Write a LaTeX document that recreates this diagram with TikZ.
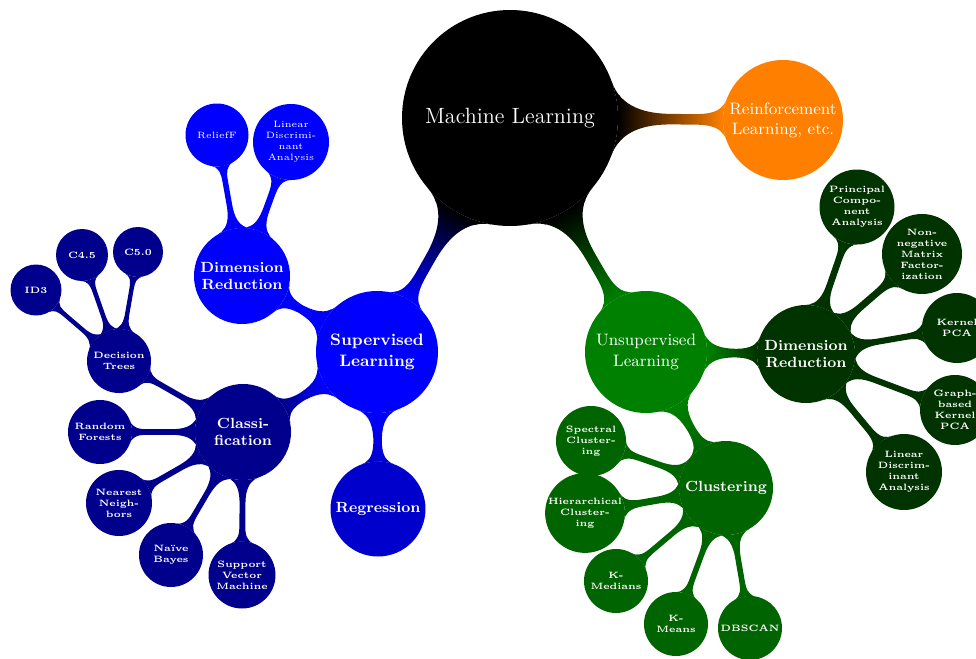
\documentclass[tikz,border=0pt]{standalone}
\usetikzlibrary{mindmap,backgrounds}
\definecolor{orng}{RGB}{255,128,0}
\definecolor{sblue}{RGB}{0,0,255}
\definecolor{regblue}{RGB}{0,0,204}
\definecolor{clsnavy}{RGB}{0,0,140}
\definecolor{ugreen}{RGB}{0,128,0}
\definecolor{clgreen}{RGB}{0,100,0}
\definecolor{drgreen}{RGB}{0,51,0}
\begin{document}
\begin{tikzpicture}[x=0.5435pt,y=-0.5435pt,
  dia/.code={\pgfmathsetlengthmacro\tmpd{#1*0.5435pt}\edef\tmpx{\noexpand\pgfkeysalso{minimum size=\tmpd}}\tmpx},
  cpt/.style={circle, inner sep=0pt, outer sep=0pt, text=white, align=center},
  lvtwo/.style={cpt, font=\footnotesize\bfseries},
  leaf/.style={cpt, font=\tiny\bfseries},
  leafr/.style={cpt, font=\tiny},
  conn/.style args={#1 to #2}{circle connection bar switch color=from (#1) to (#2)}
]
\useasboundingbox (0,0) rectangle (976,659);
% root and level 1
\node[cpt, fill=black, dia=216, font=\large] (root) at (510,118) {Machine Learning};
\node[cpt, fill=orng, dia=120, font=\small] (reinf) at (783,120) {Reinforcement\\Learning, etc.};
\node[cpt, fill=sblue, dia=122, font=\small\bfseries] (sup) at (377,352) {Supervised\\Learning};
\node[cpt, fill=ugreen, dia=122, font=\small] (unsup) at (646,352) {Unsupervised\\Learning};
% supervised branch
\node[lvtwo, fill=regblue, dia=95] (reg) at (378,509) {Regression};
\node[lvtwo, fill=sblue, dia=96] (dimb) at (242,276) {Dimension\\Reduction};
\node[lvtwo, fill=clsnavy, dia=96] (cls) at (243,432) {Classi-\\fication};
\node[leafr, fill=sblue, dia=63] (relief) at (217,135) {ReliefF};
\node[leafr, fill=sblue, dia=76] (ldab) at (291,142) {Linear\\Discrimi-\\nant\\Analysis};
\node[leaf, fill=clsnavy, dia=64] (dt) at (119,361) {Decision\\Trees};
\node[leaf, fill=clsnavy, dia=51] (id3) at (36,290) {ID3};
\node[leaf, fill=clsnavy, dia=52] (c45) at (82,255) {C4.5};
\node[leaf, fill=clsnavy, dia=50] (c50) at (138,252) {C5.0};
\node[leaf, fill=clsnavy, dia=64] (rf) at (100,432) {Random\\Forests};
\node[leaf, fill=clsnavy, dia=66] (nn) at (119,503) {Nearest\\Neigh-\\bors};
\node[leaf, fill=clsnavy, dia=64] (nb) at (171,555) {Naïve\\Bayes};
\node[leaf, fill=clsnavy, dia=67] (svm) at (242,575) {Support\\Vector\\Machine};
% unsupervised branch
\node[lvtwo, fill=clgreen, dia=94] (clu) at (726,488) {Clustering};
\node[lvtwo, fill=drgreen, dia=98] (dimg) at (806,354) {Dimension\\Reduction};
\node[leaf, fill=clgreen, dia=70] (spec) at (591,441) {Spectral\\Cluster-\\ing};
\node[leaf, fill=clgreen, dia=70] (hier) at (585,513) {Hierarchical\\Cluster-\\ing};
\node[leaf, fill=clgreen, dia=64] (kmed) at (616,581) {K-\\Medians};
\node[leaf, fill=clgreen, dia=64] (kmeans) at (676,624) {K-\\Means};
\node[leaf, fill=clgreen, dia=64] (dbscan) at (750,628) {DBSCAN};
\node[leaf, fill=drgreen, dia=75] (pca) at (857,207) {Principal\\Compo-\\nent\\Analysis};
\node[leaf, fill=drgreen, dia=80] (nmf) at (922,254) {Non-\\negative\\Matrix\\Factor-\\ization};
\node[leaf, fill=drgreen, dia=70] (kpca) at (957,328) {Kernel\\PCA};
\node[leaf, fill=drgreen, dia=70] (gkpca) at (955,410) {Graph-\\based\\Kernel\\PCA};
\node[leaf, fill=drgreen, dia=76] (ldag) at (904,472) {Linear\\Discrim-\\inant\\Analysis};
\begin{pgfonlayer}{background}
\path (root) to[conn=black to orng] (reinf);
\path (root) to[conn=black to sblue] (sup);
\path (root) to[conn=black to ugreen] (unsup);
\path (sup) to[conn=sblue to regblue] (reg);
\path (sup) to[conn=sblue to sblue] (dimb);
\path (sup) to[conn=sblue to clsnavy] (cls);
\path (dimb) to[conn=sblue to sblue] (relief);
\path (dimb) to[conn=sblue to sblue] (ldab);
\path (cls) to[conn=clsnavy to clsnavy] (dt);
\path (cls) to[conn=clsnavy to clsnavy] (rf);
\path (cls) to[conn=clsnavy to clsnavy] (nn);
\path (cls) to[conn=clsnavy to clsnavy] (nb);
\path (cls) to[conn=clsnavy to clsnavy] (svm);
\path (dt) to[conn=clsnavy to clsnavy] (id3);
\path (dt) to[conn=clsnavy to clsnavy] (c45);
\path (dt) to[conn=clsnavy to clsnavy] (c50);
\path (unsup) to[conn=ugreen to clgreen] (clu);
\path (unsup) to[conn=ugreen to drgreen] (dimg);
\path (clu) to[conn=clgreen to clgreen] (spec);
\path (clu) to[conn=clgreen to clgreen] (hier);
\path (clu) to[conn=clgreen to clgreen] (kmed);
\path (clu) to[conn=clgreen to clgreen] (kmeans);
\path (clu) to[conn=clgreen to clgreen] (dbscan);
\path (dimg) to[conn=drgreen to drgreen] (pca);
\path (dimg) to[conn=drgreen to drgreen] (nmf);
\path (dimg) to[conn=drgreen to drgreen] (kpca);
\path (dimg) to[conn=drgreen to drgreen] (gkpca);
\path (dimg) to[conn=drgreen to drgreen] (ldag);
\end{pgfonlayer}
\end{tikzpicture}
\end{document}
